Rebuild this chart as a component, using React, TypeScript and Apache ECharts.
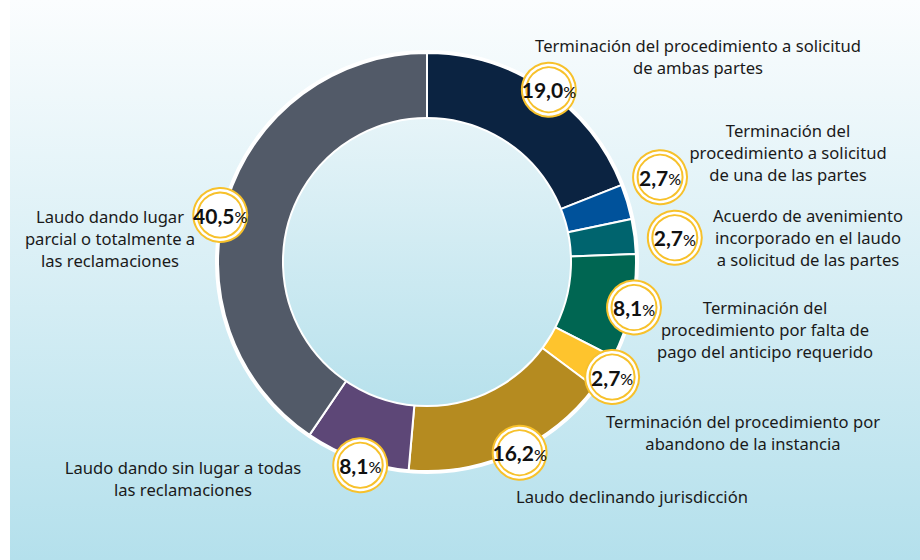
import React, { useEffect, useRef } from "react";
import * as echarts from "echarts";

const categories = [
  "Terminación del procedimiento a solicitud\nde ambas partes",
  "Terminación del\nprocedimiento a solicitud\nde una de las partes",
  "Acuerdo de avenimiento\nincorporado en el laudo\na solicitud de las partes",
  "Terminación del\nprocedimiento por falta de\npago del anticipo requerido",
  "Terminación del procedimiento por\nabandono de la instancia",
  "Laudo declinando jurisdicción",
  "Laudo dando sin lugar a todas\nlas reclamaciones",
  "Laudo dando lugar\nparcial o totalmente a\nlas reclamaciones",
];
const values = [19.0, 2.7, 2.7, 8.1, 2.7, 16.2, 8.1, 40.5];
const colors = ["#0b2341", "#00529b", "#00646e", "#006652", "#fec42d", "#b58b20", "#5d4777", "#525a68"];

// layout
const CX = 427;
const CY = 262;
const R_IN = 143;
const R_OUT = 209;
const badgeRadius = [211, 248, 249, 212, 218, 212, 214, 212];
const badgeAngleShift = [0.3, -0.9, 0.4, 0, 0, -0.5, -0.4, -1.2];
const labelPos: [number, number][] = [
  [698, 56],
  [788, 152],
  [808, 237],
  [765, 329],
  [743, 432],
  [632, 496],
  [183, 478],
  [110, 238],
];
const YELLOW = "#f7c12b";

export default function App() {
  const ref = useRef<HTMLDivElement>(null);
  useEffect(() => {
    document.body.style.margin = "0";
    const chart = echarts.init(ref.current!, null, { renderer: "svg" });
    const total = values.reduce((a, b) => a + b, 0);
    let cum = 0;
    const mids = values.map((v) => {
      const m = ((cum + v / 2) / total) * 100;
      cum += v;
      return m;
    });
    const badgeData = values.map((v, i) => ({
      value: [badgeRadius[i], mids[i] + badgeAngleShift[i]],
      label: {
        formatter: `{n|${v.toFixed(1).replace(".", ",")}}{p|%}`,
      },
    }));
    const option: any = {
      animation: false,
      graphic: [
        {
          type: "rect",
          z: -10,
          shape: { x: 10, y: 0, width: 910, height: 560 },
          style: {
            fill: new echarts.graphic.LinearGradient(0, 0, 0, 1, [
              { offset: 0, color: "#fbfdfe" },
              { offset: 1, color: "#b4e0ec" },
            ]),
          },
          silent: true,
        },
        ...categories.map((c, i) => ({
          type: "text",
          x: labelPos[i][0],
          y: labelPos[i][1],
          silent: true,
          style: {
            text: c,
            fill: "#1a1a1a",
            font: '16.6px "Noto Sans"',
            align: "center",
            verticalAlign: "middle",
            lineHeight: 22,
          },
        })),
      ],
      polar: { center: [CX, CY], radius: R_OUT },
      angleAxis: {
        type: "value",
        min: 0,
        max: 100,
        startAngle: 90,
        clockwise: true,
        show: false,
      },
      radiusAxis: { type: "value", min: 0, max: R_OUT, show: false },
      series: [
        {
          type: "pie",
          silent: true,
          z: 1,
          center: [CX, CY],
          radius: [0, R_OUT + 3],
          label: { show: false },
          itemStyle: { color: "#ffffff" },
          data: [1],
        },
        {
          type: "pie",
          silent: true,
          z: 2,
          center: [CX, CY],
          radius: [R_IN, R_OUT],
          startAngle: 90,
          clockwise: true,
          label: { show: false },
          labelLine: { show: false },
          itemStyle: { borderColor: "#ffffff", borderWidth: 2 },
          data: values.map((v, i) => ({
            value: v,
            name: categories[i],
            itemStyle: { color: colors[i] },
          })),
        },
        {
          type: "pie",
          silent: true,
          z: 3,
          center: [CX, CY],
          radius: [0, R_IN + 1],
          label: { show: false },
          itemStyle: {
            color: new echarts.graphic.LinearGradient(0, 0, 0, 1, [
              { offset: 0, color: "#e6f4f8" },
              { offset: 1, color: "#b7e1ec" },
            ]),
            borderColor: "#ffffff",
            borderWidth: 2,
          },
          data: [1],
        },
        {
          type: "scatter",
          coordinateSystem: "polar",
          silent: true,
          clip: false,
          z: 4,
          symbol: "circle",
          symbolSize: 54,
          itemStyle: { color: "#ffffff", borderColor: YELLOW, borderWidth: 2, opacity: 1 },
          data: badgeData.map((d) => d.value),
        },
        {
          type: "scatter",
          coordinateSystem: "polar",
          silent: true,
          clip: false,
          z: 5,
          symbol: "circle",
          symbolSize: 45,
          itemStyle: { color: "#ffffff", borderColor: YELLOW, borderWidth: 2, opacity: 1 },
          label: {
            show: true,
            position: "inside",
            rich: {
              n: { fontFamily: "Lato", fontWeight: "bold", fontSize: 21, color: "#111111" },
              p: { fontFamily: "Lato", fontWeight: 500, fontSize: 16, color: "#111111", padding: [3, 0, 0, 0] },
            },
          },
          data: badgeData,
        },
      ],
    };
    chart.setOption(option);
    return () => chart.dispose();
  }, []);
  return <div ref={ref} style={{ width: 920, height: 560 }} />;
}
